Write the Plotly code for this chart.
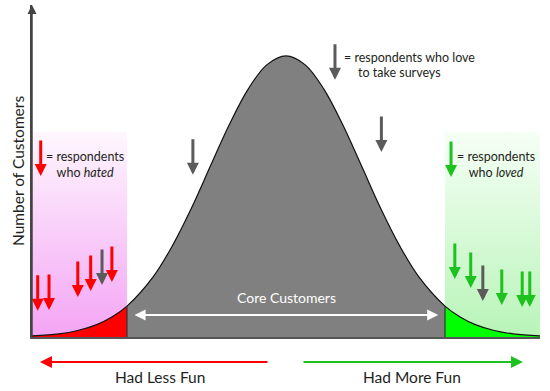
import plotly.graph_objects as go

# ---------------- data ----------------
# bell curve (score in std units, relative number of customers)
curve_x = [-3.355, -3.0, -2.75, -2.5, -2.3, -2.1, -1.75, -1.5, -1.25, -1.0, -0.75, -0.5, -0.25, 0.0,
           0.25, 0.5, 0.75, 1.0, 1.25, 1.5, 1.75, 2.1, 2.3, 2.5, 2.75, 3.0, 3.355]
curve_y = [0.004, 0.011, 0.023, 0.044, 0.071, 0.110, 0.216, 0.325, 0.458, 0.607, 0.755, 0.882, 0.969, 1.0,
           0.969, 0.882, 0.755, 0.607, 0.458, 0.325, 0.216, 0.110, 0.071, 0.044, 0.023, 0.011, 0.004]
tail_cut = 2.1          # boundary of the "core customers"
zone_height = 0.73      # height of the shaded hated / loved zones

# respondents (score, arrow tip level)
hated_x = [-3.28, -3.13, -2.75, -2.58, -2.30]
hated_y = [0.093, 0.096, 0.142, 0.164, 0.196]
loved_x = [2.23, 2.44, 2.85, 3.12, 3.22]
loved_y = [0.206, 0.174, 0.114, 0.107, 0.107]
survey_x = [-2.43, -1.23, 1.26, 2.60]
survey_y = [0.185, 0.577, 0.658, 0.128]

# legend keys (score, arrow tip level)
key_hated = (-3.24, 0.573)
key_loved = (2.18, 0.569)
key_survey = (0.647, 0.915)

X_MIN, X_MAX = -3.355, 3.355
Y_MAX = 1.181

RED = "#ff0000"
GREEN_ARROW = "#1ec21e"
GREY_ARROW = "#5b5b5b"
TXT = "#231f20"
FONT = "Lato"

fig = go.Figure()

# ---------------- shaded zones ----------------
fig.add_trace(go.Scatter(
    x=[X_MIN, -tail_cut, -tail_cut, X_MIN, X_MIN], y=[0, 0, zone_height, zone_height, 0],
    mode="lines", fill="toself", line=dict(width=0),
    fillgradient=dict(type="vertical", colorscale=[[0, "#f4a4f4"], [1, "#fef7fe"]]),
    hoverinfo="skip", showlegend=False))
fig.add_trace(go.Scatter(
    x=[tail_cut, X_MAX, X_MAX, tail_cut, tail_cut], y=[0, 0, zone_height, zone_height, 0],
    mode="lines", fill="toself", line=dict(width=0),
    fillgradient=dict(type="vertical", colorscale=[[0, "#b8f4b8"], [1, "#f6fff6"]]),
    hoverinfo="skip", showlegend=False))

# ---------------- curve fills ----------------
def seg(lo, hi):
    xs = [x for x in curve_x if lo - 1e-9 <= x <= hi + 1e-9]
    ys = [y for x, y in zip(curve_x, curve_y) if lo - 1e-9 <= x <= hi + 1e-9]
    return xs, ys

for (lo, hi), col in [((X_MIN, -tail_cut), RED), ((-tail_cut, tail_cut), "#808080"), ((tail_cut, X_MAX), "#00ff00")]:
    xs, ys = seg(lo, hi)
    fig.add_trace(go.Scatter(x=xs, y=ys, mode="lines", fill="tozeroy", fillcolor=col,
                             line=dict(width=0, shape="spline"), hoverinfo="skip", showlegend=False))

# outline
fig.add_trace(go.Scatter(x=curve_x, y=curve_y, mode="lines", line=dict(color="#111", width=1.2, shape="spline"),
                         hoverinfo="skip", showlegend=False))
# boundaries
cut_y = curve_y[curve_x.index(-tail_cut)]
for cx in (-tail_cut, tail_cut):
    fig.add_trace(go.Scatter(x=[cx, cx], y=[0, cut_y], mode="lines", line=dict(color="#333", width=1.2),
                             hoverinfo="skip", showlegend=False))

ann = []

def down_arrow(x, y, color):
    ann.append(dict(x=x, y=y, xref="x", yref="y", ax=0, ay=-37, text="", showarrow=True,
                    arrowhead=2, arrowsize=0.8, arrowwidth=3, arrowcolor=color, standoff=0))

for x, y in zip(hated_x, hated_y):
    down_arrow(x, y, RED)
for x, y in zip(loved_x, loved_y):
    down_arrow(x, y, GREEN_ARROW)
for x, y in zip(survey_x, survey_y):
    down_arrow(x, y, GREY_ARROW)
down_arrow(*key_hated, RED)
down_arrow(*key_loved, GREEN_ARROW)
down_arrow(*key_survey, GREY_ARROW)

txt_font = dict(family=FONT, size=12.5, color=TXT)
# legend texts
ann.append(dict(x=-2.655, y=0.614, xref="x", yref="y", xanchor="center", yanchor="middle",
                text="= respondents<br>who <i>hated</i>", showarrow=False, align="center", font=txt_font))
ann.append(dict(x=2.774, y=0.614, xref="x", yref="y", xanchor="center", yanchor="middle",
                text="= respondents<br>who <i>loved</i>", showarrow=False, align="center", font=txt_font))
ann.append(dict(x=0.74, y=0.993, xref="x", yref="y", xanchor="left", yanchor="middle",
                text="= respondents who love", showarrow=False, font=txt_font))
ann.append(dict(x=0.925, y=0.940, xref="x", yref="y", xanchor="left", yanchor="middle",
                text="to take surveys", showarrow=False, font=txt_font))

# core customers
ann.append(dict(x=2.01, y=0.078, xref="x", yref="y", ax=-2.02, ay=0.078, axref="x", ayref="y", text="",
                showarrow=True, arrowside="end+start", arrowhead=2, startarrowhead=2,
                arrowsize=1.1, startarrowsize=1.1, arrowwidth=2, arrowcolor="white", standoff=0, startstandoff=0))
ann.append(dict(x=0.0, y=0.142, xref="x", yref="y", xanchor="center", yanchor="middle",
                text="Core Customers", showarrow=False, font=dict(family=FONT, size=14, color="white")))

# y axis arrow + title
ann.append(dict(x=X_MIN, y=Y_MAX, xref="x", yref="y", ax=X_MIN, ay=0, axref="x", ayref="y", text="",
                showarrow=True, arrowhead=2, arrowsize=1.2, arrowwidth=1.5, arrowcolor="#444", standoff=0))
ann.append(dict(x=-0.0276, y=0.5, xref="paper", yref="paper", xanchor="center", yanchor="middle",
                text="Number of Customers", textangle=-90, showarrow=False,
                font=dict(family=FONT, size=15.5, color=TXT)))

# bottom arrows
ann.append(dict(x=-3.25, y=-0.0753, xref="x", yref="paper", ax=-0.225, ay=0, axref="x", text="",
                showarrow=True, arrowhead=2, arrowsize=1.2, arrowwidth=2, arrowcolor=RED, standoff=0))
ann.append(dict(x=3.13, y=-0.0753, xref="x", yref="paper", ax=0.211, ay=0, axref="x", text="",
                showarrow=True, arrowhead=2, arrowsize=1.2, arrowwidth=2, arrowcolor=GREEN_ARROW, standoff=0))
ann.append(dict(x=-1.664, y=-0.1205, xref="x", yref="paper", xanchor="center", yanchor="middle",
                text="Had Less Fun", showarrow=False, font=dict(family=FONT, size=15.5, color=TXT)))
ann.append(dict(x=1.664, y=-0.1205, xref="x", yref="paper", xanchor="center", yanchor="middle",
                text="Had More Fun", showarrow=False, font=dict(family=FONT, size=15.5, color=TXT)))

fig.update_layout(
    width=550, height=391,
    margin=dict(l=32, r=10, t=5, b=54, pad=0),
    paper_bgcolor="white", plot_bgcolor="white",
    xaxis=dict(range=[X_MIN, X_MAX], showgrid=False, zeroline=False, showticklabels=False, ticks="",
               showline=True, linecolor="#555", linewidth=1.5, fixedrange=True),
    yaxis=dict(range=[0, Y_MAX], showgrid=False, zeroline=False, showticklabels=False, ticks="",
               showline=True, linecolor="#444", linewidth=1.5, fixedrange=True),
    annotations=ann,
    showlegend=False,
)

fig.write_html("out.html", config={"displayModeBar": False},
               post_script="document.body.style.margin='0px';document.body.style.overflow='hidden';")
